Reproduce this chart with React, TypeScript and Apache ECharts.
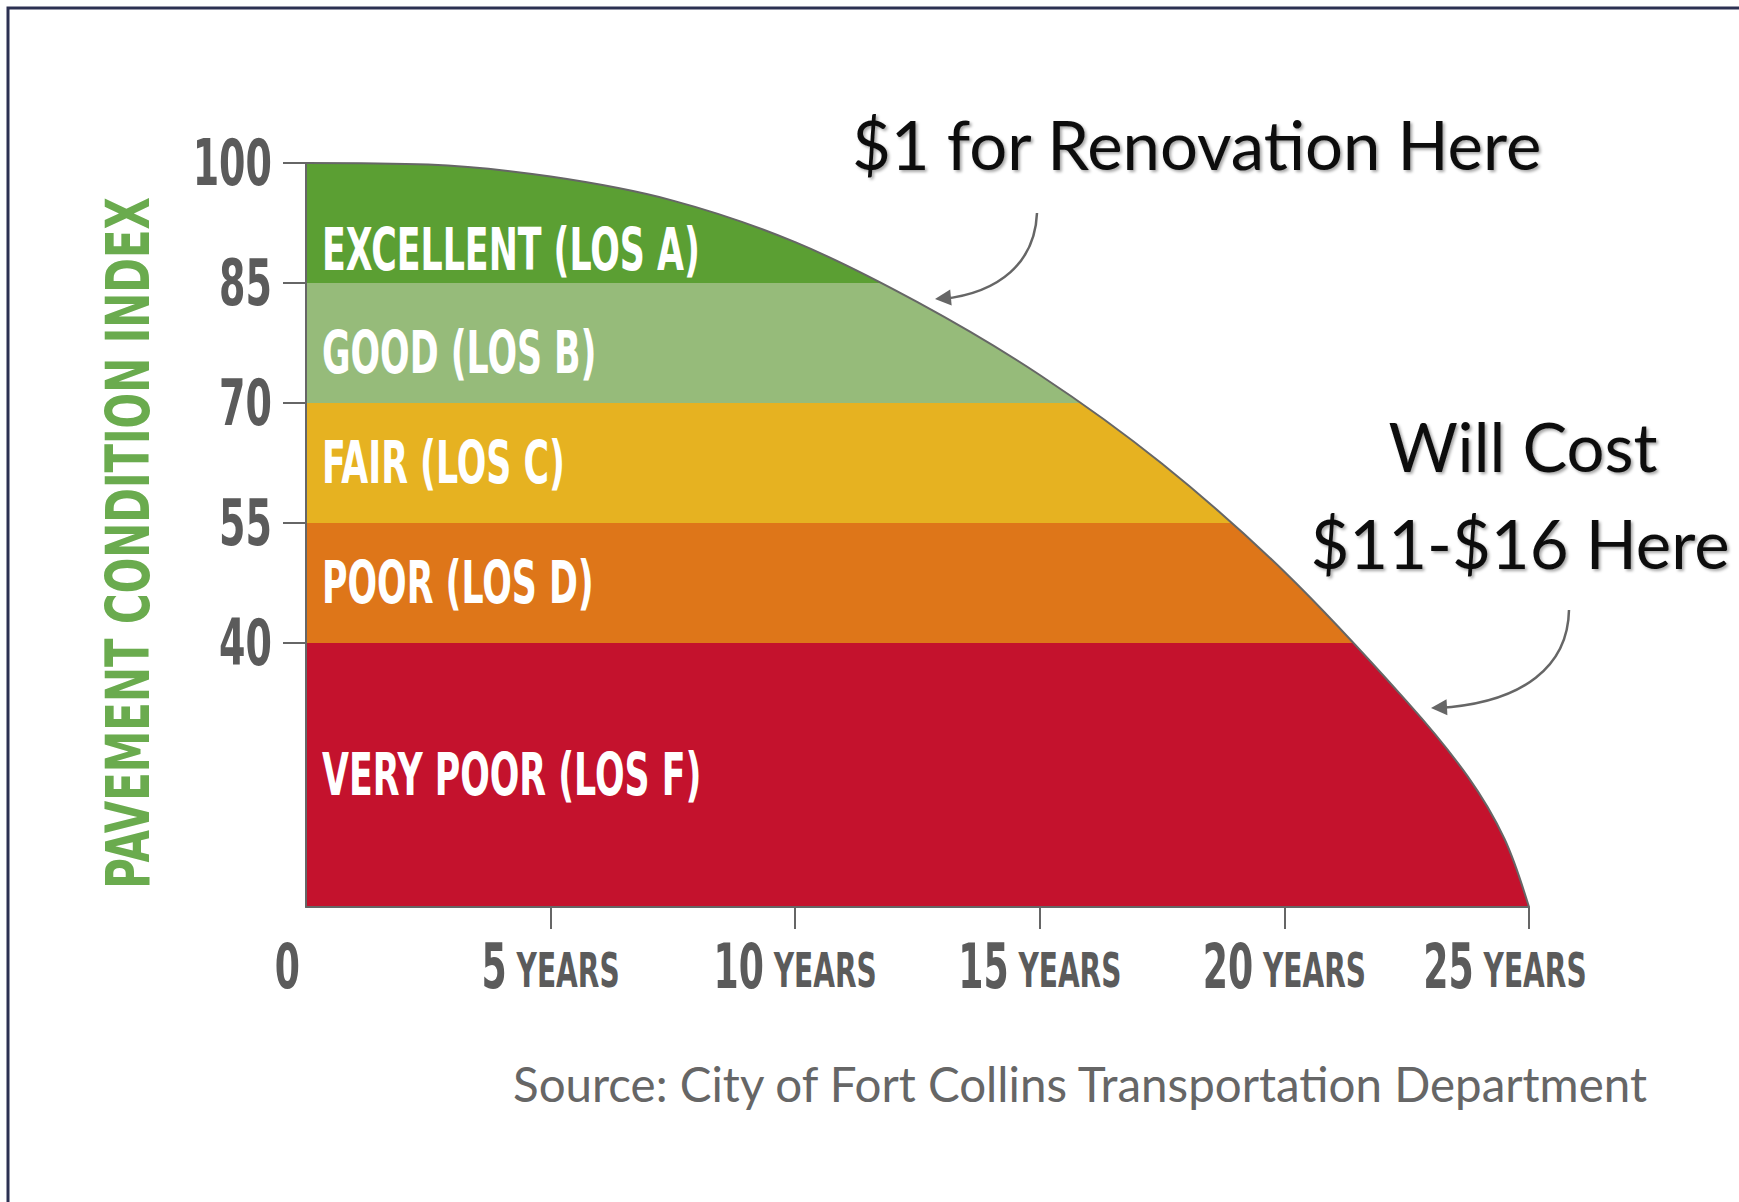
import React, { useEffect, useRef } from "react";
import * as echarts from "echarts";

// ---- data ----
const years = [0, 2.5, 5, 7.5, 10, 12.5, 15, 17.5, 20, 22.5, 23.75, 24.5, 25];
const pci = [100, 99.8, 98.3, 95.3, 90.1, 82.6, 73.5, 62.4, 48.9, 32.7, 23.3, 15.5, 7];

const bandNames = ["EXCELLENT (LOS A)", "GOOD (LOS B)", "FAIR (LOS C)", "POOR (LOS D)", "VERY POOR (LOS F)"];
const bandTops = [100, 85, 70, 55, 40];
const bandBottoms = [85, 70, 55, 40, 7];
const bandColors = ["#5b9f33", "#96bb7a", "#e6b221", "#de7619", "#c4122d"];

const yTicks = [40, 55, 70, 85, 100];
const xTicks = [0, 5, 10, 15, 20, 25];
const PCI_FLOOR = 7; // the graphic is not to scale: bottom edge of the chart
const xUnit = "YEARS";
const yTitle = "PAVEMENT CONDITION INDEX";
const note1 = "$1 for Renovation Here";
const note2a = "Will Cost";
const note2b = "$11-$16 Here";
const source = "Source: City of Fort Collins Transportation Department";

const COND = "'DejaVu Sans Condensed', 'DejaVu Sans', sans-serif";
const HUMAN = "Lato, 'Open Sans', sans-serif";
const GRAY = "#5b5b5b";

function arrowHead(tip: number[], from: number[], len: number, half: number) {
  const dx = tip[0] - from[0];
  const dy = tip[1] - from[1];
  const d = Math.hypot(dx, dy);
  const ux = dx / d, uy = dy / d;
  const bx = tip[0] - ux * len, by = tip[1] - uy * len;
  return [tip, [bx - uy * half, by + ux * half], [bx + uy * half, by - ux * half]];
}

export default function App() {
  const ref = useRef<HTMLDivElement>(null);
  useEffect(() => {
    const chart = echarts.init(ref.current!, null, { renderer: "svg" });
    const base: any = {
      animation: false,
      backgroundColor: "#ffffff",
      grid: { left: 306, top: 163, width: 1223, height: 744 },
      xAxis: {
        type: "value",
        min: 0,
        max: 25,
        interval: 5,
        z: 5,
        axisLine: { show: true, lineStyle: { color: "#666", width: 2 } },
        axisTick: { show: true, length: 22, customValues: xTicks.filter((v) => v > 0), lineStyle: { color: "#666", width: 2 } },
        splitLine: { show: false },
        axisLabel: { show: false },
      },
      yAxis: {
        type: "value",
        min: PCI_FLOOR,
        max: 100,
        z: 5,
        axisLine: { show: true, lineStyle: { color: "#666", width: 2 } },
        axisTick: { show: true, length: 23, customValues: yTicks, lineStyle: { color: "#666", width: 2 } },
        splitLine: { show: false },
        axisLabel: { show: false },
      },
      series: [
        {
          type: "line",
          data: years.map((x, i) => [x, pci[i]]),
          smooth: 0.33,
          symbol: "none",
          z: 3,
          silent: true,
          lineStyle: { color: "#666", width: 2 },
          areaStyle: { color: "#ffffff", opacity: 1, origin: "end" },
          markArea: {
            silent: true,
            label: { show: false },
            data: bandNames.map((name, i) => [
              { name, yAxis: bandBottoms[i], itemStyle: { color: bandColors[i], opacity: 1 } },
              { yAxis: bandTops[i] },
            ]),
          },
        },
      ],
    };
    chart.setOption(base);

    const px = (x: number, y: number) => chart.convertToPixel({ gridIndex: 0 }, [x, y]) as number[];
    const bottomY = px(0, PCI_FLOOR)[1];
    const leftX = px(0, 100)[0];

    const yLabels = yTicks.map((v) => ({
      type: "text",
      x: leftX - 34,
      y: px(0, v)[1],
      scaleX: 0.66,
      z: 100,
      style: { text: String(v), align: "right", verticalAlign: "middle", fill: GRAY, fontFamily: COND, fontWeight: "bold", fontSize: 64 },
    }));

    const xRich = {
      n: { fontFamily: COND, fontWeight: "bold", fontSize: 62, fill: GRAY },
      y: { fontFamily: COND, fontWeight: "bold", fontSize: 48, fill: GRAY, verticalAlign: "bottom", padding: [0, 0, 3, 0] },
    };
    const xLabels = xTicks.map((v) => {
      const tx = px(v, PCI_FLOOR)[0];
      return {
        type: "text",
        x: v === 0 ? tx - 6 : v === 25 ? tx - 24 : tx,
        y: bottomY + 59,
        scaleX: 0.65,
        z: 100,
        style: {
          text: v === 0 ? "{n|0}" : `{n|${v}}{y| ${xUnit}}`,
          rich: xRich,
          align: v === 0 ? "right" : "center",
          verticalAlign: "middle",
        },
      };
    });

    const labelOffsets = [27, 10, 0, 0, 0];
    const bandLabels = bandNames.map((name, i) => ({
      type: "text",
      x: leftX + 16,
      y: px(0, (bandTops[i] + bandBottoms[i]) / 2)[1] + labelOffsets[i],
      scaleX: 0.667,
      z: 100,
      style: { text: name, align: "left", verticalAlign: "middle", fill: "#ffffff", fontFamily: COND, fontWeight: "bold", fontSize: 58 },
    }));

    const title = {
      type: "text",
      x: 128,
      y: 543,
      rotation: Math.PI / 2,
      scaleX: 0.775,
      z: 100,
      style: { text: yTitle, align: "center", verticalAlign: "middle", fill: "#6aab4e", fontFamily: COND, fontWeight: "bold", fontSize: 60 },
    };

    const annoText = {
      fill: "#111",
      fontFamily: HUMAN,
      fontSize: 67,
      textShadowColor: "rgba(0,0,0,0.35)",
      textShadowBlur: 3,
      textShadowOffsetX: 2,
      textShadowOffsetY: 2,
      verticalAlign: "middle",
    };
    const a1 = { x1: 1037, y1: 213, cpx1: 1035, cpy1: 262, cpx2: 1000, cpy2: 293, x2: 942, y2: 299 };
    const a2 = { x1: 1569, y1: 610, cpx1: 1568, cpy1: 665, cpx2: 1525, cpy2: 703, x2: 1438, y2: 708 };

    chart.setOption({
      graphic: [
        {
          type: "rect",
          shape: { x: 8, y: 8, width: 1800, height: 1300 },
          style: { fill: "none", stroke: "#2c3152", lineWidth: 3 },
          z: 100,
          silent: true,
        },
        ...yLabels,
        ...xLabels,
        ...bandLabels,
        title,
        { type: "text", z: 100, style: { ...annoText, text: note1, x: 852, y: 144, align: "left" } },
        { type: "text", z: 100, style: { ...annoText, text: note2a, x: 1523, y: 446, align: "center" } },
        { type: "text", z: 100, style: { ...annoText, text: note2b, x: 1520, y: 543, align: "center" } },
        {
          type: "text",
          z: 100,
          style: { text: source, x: 513, y: 1083, align: "left", verticalAlign: "middle", fill: "#666", fontFamily: HUMAN, fontSize: 47.5 },
        },
        { type: "bezierCurve", shape: a1, style: { stroke: "#666", lineWidth: 2.5, fill: "none" }, z: 100 },
        { type: "polygon", shape: { points: arrowHead([935, 299], [a1.cpx2, a1.cpy2], 16, 8) }, style: { fill: "#666" }, z: 100 },
        { type: "bezierCurve", shape: a2, style: { stroke: "#666", lineWidth: 2.5, fill: "none" }, z: 100 },
        { type: "polygon", shape: { points: arrowHead([1431, 708], [a2.cpx2, a2.cpy2], 16, 8) }, style: { fill: "#666" }, z: 100 },
      ],
    });
    return () => chart.dispose();
  }, []);
  return (
    <div
      ref={ref}
      style={{ position: "absolute", left: 0, top: 0, width: 1739, height: 1202, background: "#fff" }}
    />
  );
}
